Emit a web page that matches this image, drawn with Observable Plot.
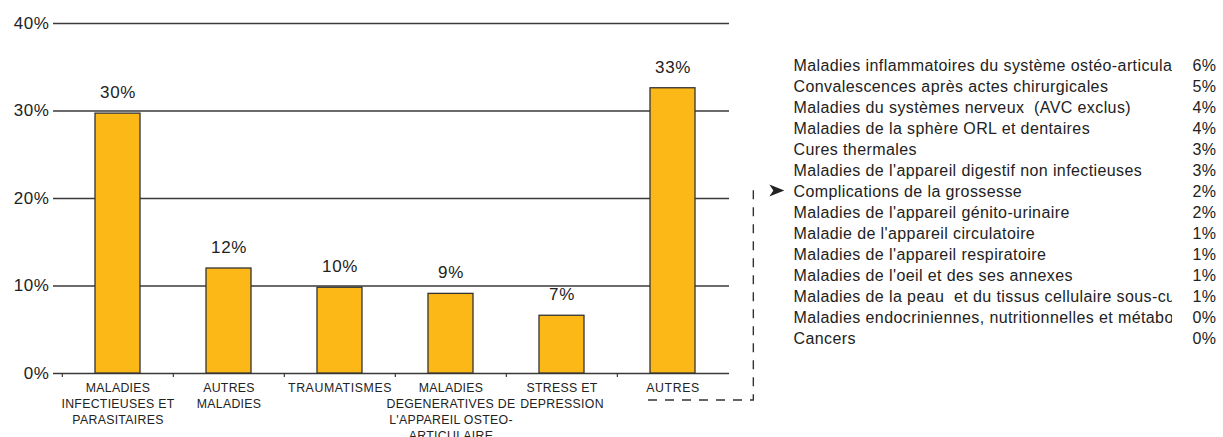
<!DOCTYPE html>
<html>
<head>
<meta charset="utf-8">
<script src="https://cdn.jsdelivr.net/npm/d3@7"></script>
<script src="https://cdn.jsdelivr.net/npm/@observablehq/plot@0.6"></script>
<style>
  html, body { margin: 0; padding: 0; background: #fff; overflow: hidden; }
  #wrap { position: relative; width: 1223px; height: 437px; }
  #wrap svg { position: absolute; left: 0; top: 0; }
</style>
</head>
<body>
<div id="wrap"></div>
<script>
// ---- data ----
const categories = [
  "MALADIES\nINFECTIEUSES ET\nPARASITAIRES",
  "AUTRES\nMALADIES",
  "TRAUMATISMES",
  "MALADIES\nDEGENERATIVES DE\nL'APPAREIL OSTEO-\nARTICULAIRE",
  "STRESS ET\nDEPRESSION",
  "AUTRES"
];
const values = [0.297, 0.120, 0.098, 0.091, 0.066, 0.326];
const yTicks = [0, 0.1, 0.2, 0.3, 0.4];

const subNames = [
  "Maladies inflammatoires du système ostéo-articulaire",
  "Convalescences après actes chirurgicales",
  "Maladies du systèmes nerveux  (AVC exclus)",
  "Maladies de la sphère ORL et dentaires",
  "Cures thermales",
  "Maladies de l'appareil digestif non infectieuses",
  "Complications de la grossesse",
  "Maladies de l'appareil génito-urinaire",
  "Maladie de l'appareil circulatoire",
  "Maladies de l'appareil respiratoire",
  "Maladies de l'oeil et des ses annexes",
  "Maladies de la peau  et du tissus cellulaire sous-cutané",
  "Maladies endocriniennes, nutritionnelles et métaboliques",
  "Cancers"
];
const subValues = [6, 5, 4, 4, 3, 3, 2, 2, 1, 1, 1, 1, 0, 0];
const arrowTarget = "Complications de la grossesse";

// ---- chart ----
const W = 1223, H = 437;
const FONT = "'Liberation Sans', Arial, sans-serif";
const INK = "#222";
const BAR = "#FCB817";
const rows = categories.map((c, i) => ({cat: c, v: values[i], label: d3.format(".0%")(values[i])}));

const xRange = [61, 729];
const step = (xRange[1] - xRange[0]) / categories.length;
const barInset = 33;

const main = Plot.plot({
  width: W, height: H,
  marginLeft: 53, marginRight: W - 729, marginTop: 23, marginBottom: 64,
  style: {fontFamily: FONT, color: INK, background: "transparent"},
  x: {type: "band", domain: categories, range: xRange, padding: 0, axis: null},
  y: {domain: [0, 0.4], axis: null},
  marks: [
    Plot.ruleY(yTicks, {stroke: "#3a3a3a", strokeWidth: 1.4}),
    Plot.ruleX(categories, {x: d => d, y1: 0, y2: -0.0045, dx: -step / 2, stroke: "#3a3a3a", strokeWidth: 1.2}),
    Plot.text(yTicks, {y: d => d, text: d3.format(".0%"), frameAnchor: "left", textAnchor: "end", dx: -4, fontSize: 17, fill: INK}),
    Plot.barY(rows, {x: "cat", y: "v", fill: BAR, stroke: "#333", strokeWidth: 1.3, insetLeft: barInset, insetRight: barInset}),
    Plot.text(rows, {x: "cat", y: "v", text: "label", dy: -21, lineAnchor: "middle", fontSize: 17, fill: INK}),
    Plot.text(rows, {x: "cat", y: 0, text: "cat", dy: 7, lineAnchor: "top", fontSize: 12.3, lineHeight: 1.3, fill: INK})
  ]
});
d3.select(main).selectAll("text").style("letter-spacing", "0.6px");
d3.select(main).selectAll("text tspan").style("letter-spacing", "0.3px");

const table = Plot.plot({
  width: W, height: H,
  marginLeft: 793, marginRight: W - 1172, marginTop: 0, marginBottom: 0,
  style: {fontFamily: FONT, color: INK, background: "transparent"},
  x: {axis: null},
  y: {type: "band", domain: subNames, range: [51, 352], padding: 0, axis: null},
  marks: [
    Plot.text(subNames, {y: d => d, frameAnchor: "left", textAnchor: "start", fontSize: 16, fill: INK, clip: true}),
    Plot.text(subNames, {y: d => d, text: (d, i) => subValues[i] + "%", frameAnchor: "right", textAnchor: "end", dx: 44, fontSize: 16, fill: INK})
  ]
});
d3.select(table).selectAll("text").style("letter-spacing", "0.4px");

const wrap = document.getElementById("wrap");
wrap.appendChild(main);
wrap.appendChild(table);

// ---- connector from "AUTRES" bar to the detail list ----
const xs = main.scale("x"), ys = main.scale("y"), ty = table.scale("y");
const x0 = xs.apply("AUTRES") + barInset - 2;
const yLow = ys.apply(0) + 27;
const xV = xs.apply("AUTRES") + step + 25;
const yTop = ty.apply(arrowTarget) + ty.bandwidth / 2 - 2;
const svg = d3.select(table);
svg.append("path")
  .attr("d", `M${x0},${yLow}H${xV}V${yTop}H${xV + 6}`)
  .attr("fill", "none").attr("stroke", "#333").attr("stroke-width", 1.4)
  .attr("stroke-dasharray", "9,8");
const ax = xV + 16, ay = yTop + 1;
svg.append("path")
  .attr("d", `M${ax},${ay - 6}L${ax + 15},${ay}L${ax},${ay + 6}L${ax + 4},${ay}Z`)
  .attr("fill", "#222");
</script>
</body>
</html>
